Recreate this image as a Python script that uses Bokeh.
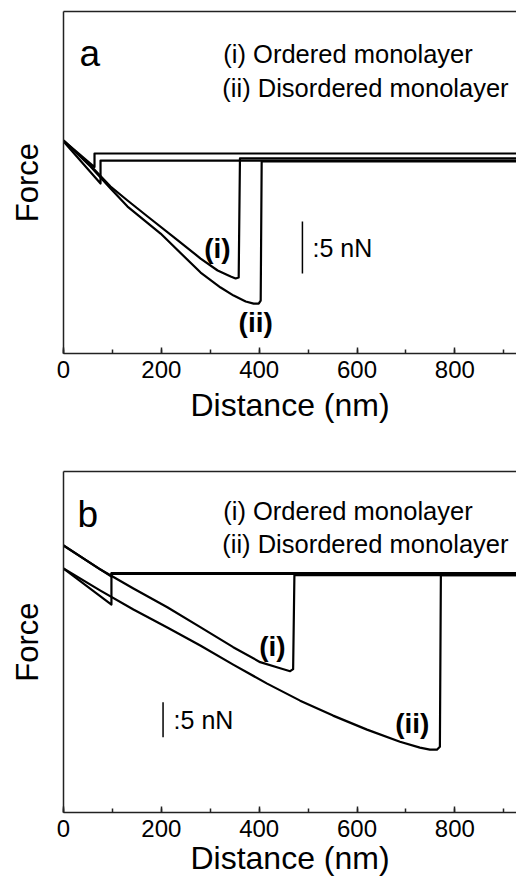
from bokeh.plotting import figure
from bokeh.layouts import column
from bokeh.models import Range1d, LinearAxis, SingleIntervalTicker, FixedTicker
from bokeh.core.properties import value
from bokeh.embed import file_html
from bokeh.resources import INLINE

FONT = "Liberation Sans"

# ---------------- data: panel a (distance nm, force nN) ----------------
a_app_i_x = [1000, 63.4, 63.4, 0]
a_app_i_y = [0.1, 0.1, -1.2, 1.35]
a_app_ii_x = [1000, 75.7, 75.7, 0]
a_app_ii_y = [-0.58, -0.58, -2.79, 1.25]
a_ret_i_x = [0, 55.2, 96.2, 130.9, 171.9, 229.2, 280.3, 315.1, 341.7, 351.9, 358.1, 360.7, 1000]
a_ret_i_y = [1.35, -1.06, -3.08, -4.42, -5.96, -8.08, -10.0, -11.15, -11.73, -11.92, -11.83, -0.38, -0.38]
a_ret_ii_x = [0, 55.2, 96.2, 130.9, 198.5, 280.3, 321.2, 347.8, 372.4, 388.7, 399.0, 403.1, 405.1, 1000]
a_ret_ii_y = [1.35, -1.15, -3.27, -5.0, -7.60, -11.35, -12.79, -13.56, -14.13, -14.33, -14.33, -14.04, -0.67, -0.67]

# ---------------- data: panel b ----------------
b_app_i_x = [1000, 98, 98, 0]
b_app_i_y = [0.1, 0.1, -0.4, 4.04]
b_app_ii_x = [1000, 98, 98, 0]
b_app_ii_y = [0.0, 0.0, -4.39, 0.76]
b_ret_i_x = [0, 75.5, 142.9, 212.2, 279.6, 346.9, 402.0, 442.9, 463.3, 469.4, 472.0, 1000]
b_ret_i_y = [4.04, 0.61, -2.10, -4.76, -7.61, -10.47, -12.61, -13.47, -13.90, -13.61, -0.2, -0.2]
b_ret_ii_x = [0, 75.5, 142.9, 212.2, 279.6, 346.9, 416.3, 483.7, 551.0, 620.4, 687.8, 728.6, 749.0, 763.3, 769.4, 771.4, 1000]
b_ret_ii_y = [0.76, -2.39, -5.10, -7.67, -10.24, -12.96, -15.67, -18.10, -20.24, -22.24, -23.96, -24.81, -25.10, -25.10, -24.67, -0.2, -0.2]

# axis ranges
x_end = 926
a_y_range = (-19.13, 13.75)
b_y_range = (-34.07, 14.61)

# texts
legend_lines = ["(i) Ordered monolayer", "(ii) Disordered monolayer"]
curve_labels = ["(i)", "(ii)"]
scale_text = ":5 nN"
scale_nN = 5

# annotation anchors (data coords)
a_panel = dict(letter="a", letter_xy=(32.7, 9.68),
               legend_x=[326.8, 324.7], legend_y=[9.68, 6.41],
               lab_x=[314.5, 392.8], lab_y=[-9.04, -16.13],
               bar_x=488.4, bar_y0=-6.44, bar_txt=(508.9, -8.95))
b_panel = dict(letter="b", letter_xy=(28.6, 8.47),
               legend_x=[326.5, 324.5], legend_y=[9.04, 4.29],
               lab_x=[427.1, 712.9], lab_y=[-10.34, -21.43],
               bar_x=203.5, bar_y0=-18.34, bar_txt=(225.1, -20.84))


def make_panel(ann, yr, curves, top, bottom, label_standoff):
    p = figure(width=516, height=440, x_range=Range1d(0, x_end), y_range=Range1d(*yr),
               output_backend="svg", toolbar_location=None,
               min_border_left=63, min_border_right=0, min_border_top=top, min_border_bottom=bottom,
               background_fill_color="white", border_fill_color="white")
    p.outline_line_color = None
    p.xgrid.visible = False
    p.ygrid.visible = False

    xa = p.xaxis[0]
    xa.ticker = SingleIntervalTicker(interval=200, num_minor_ticks=2)
    xa.major_tick_in = 6
    xa.major_tick_out = 0
    xa.minor_tick_in = 4
    xa.minor_tick_out = 0
    xa.axis_line_width = 1.5
    xa.major_tick_line_width = 1.5
    xa.minor_tick_line_width = 1.5
    xa.axis_line_color = "#222222"
    xa.major_tick_line_color = "#222222"
    xa.minor_tick_line_color = "#222222"
    xa.major_label_text_font = FONT
    xa.major_label_text_font_size = "24px"
    xa.major_label_text_color = "black"
    xa.major_label_standoff = 7
    xa.axis_label = "Distance (nm)"
    xa.axis_label_text_font = FONT
    xa.axis_label_text_font_size = "32px"
    xa.axis_label_text_font_style = "normal"
    xa.axis_label_text_color = "black"
    xa.axis_label_standoff = label_standoff

    ya = p.yaxis[0]
    ya.ticker = FixedTicker(ticks=[])
    ya.major_tick_line_color = None
    ya.minor_tick_line_color = None
    ya.major_label_standoff = 0
    ya.axis_line_width = 1.5
    ya.axis_line_color = "#222222"
    ya.axis_label = "Force"
    ya.axis_label_text_font = FONT
    ya.axis_label_text_font_size = "31px"
    ya.axis_label_text_font_style = "normal"
    ya.axis_label_text_color = "black"
    ya.axis_label_standoff = 19

    top_ax = LinearAxis(ticker=FixedTicker(ticks=[]), major_tick_line_color=None,
                        minor_tick_line_color=None, major_label_standoff=0,
                        major_tick_out=0, minor_tick_out=0,
                        axis_line_width=1.5, axis_line_color="#222222")
    p.add_layout(top_ax, "above")

    for xs, ys in curves:
        p.line(xs, ys, line_color="black", line_width=2.2, line_join="round")

    # panel letter
    p.text(x=[ann["letter_xy"][0]], y=[ann["letter_xy"][1]], text=[ann["letter"]],
           text_font=value(FONT), text_font_size="37px", text_baseline="alphabetic",
           text_align="left", text_color="black")
    # legend lines
    p.text(x=ann["legend_x"], y=ann["legend_y"], text=legend_lines,
           text_font=value(FONT), text_font_size="25.5px", text_baseline="alphabetic",
           text_align="left", text_color="black")
    # curve labels
    p.text(x=ann["lab_x"], y=ann["lab_y"], text=curve_labels,
           text_font=value(FONT), text_font_size="28px", text_font_style="bold",
           text_baseline="middle", text_align="center", text_color="black")
    # scale bar
    p.segment(x0=[ann["bar_x"]], y0=[ann["bar_y0"]], x1=[ann["bar_x"]], y1=[ann["bar_y0"] - scale_nN],
              line_color="black", line_width=1.5)
    p.text(x=[ann["bar_txt"][0]], y=[ann["bar_txt"][1]], text=[scale_text],
           text_font=value(FONT), text_font_size="25px", text_baseline="middle",
           text_align="left", text_color="black")
    return p


pa = make_panel(a_panel, a_y_range,
                [(a_app_i_x, a_app_i_y), (a_app_ii_x, a_app_ii_y),
                 (a_ret_i_x, a_ret_i_y), (a_ret_ii_x, a_ret_ii_y)],
                top=11, bottom=87, label_standoff=6)
pb = make_panel(b_panel, b_y_range,
                [(b_app_i_x, b_app_i_y), (b_app_ii_x, b_app_ii_y),
                 (b_ret_i_x, b_ret_i_y), (b_ret_ii_x, b_ret_ii_y)],
                top=31, bottom=68, label_standoff=0)

layout = column(pa, pb, spacing=0)
open("out.html", "w").write(file_html(layout, INLINE))
